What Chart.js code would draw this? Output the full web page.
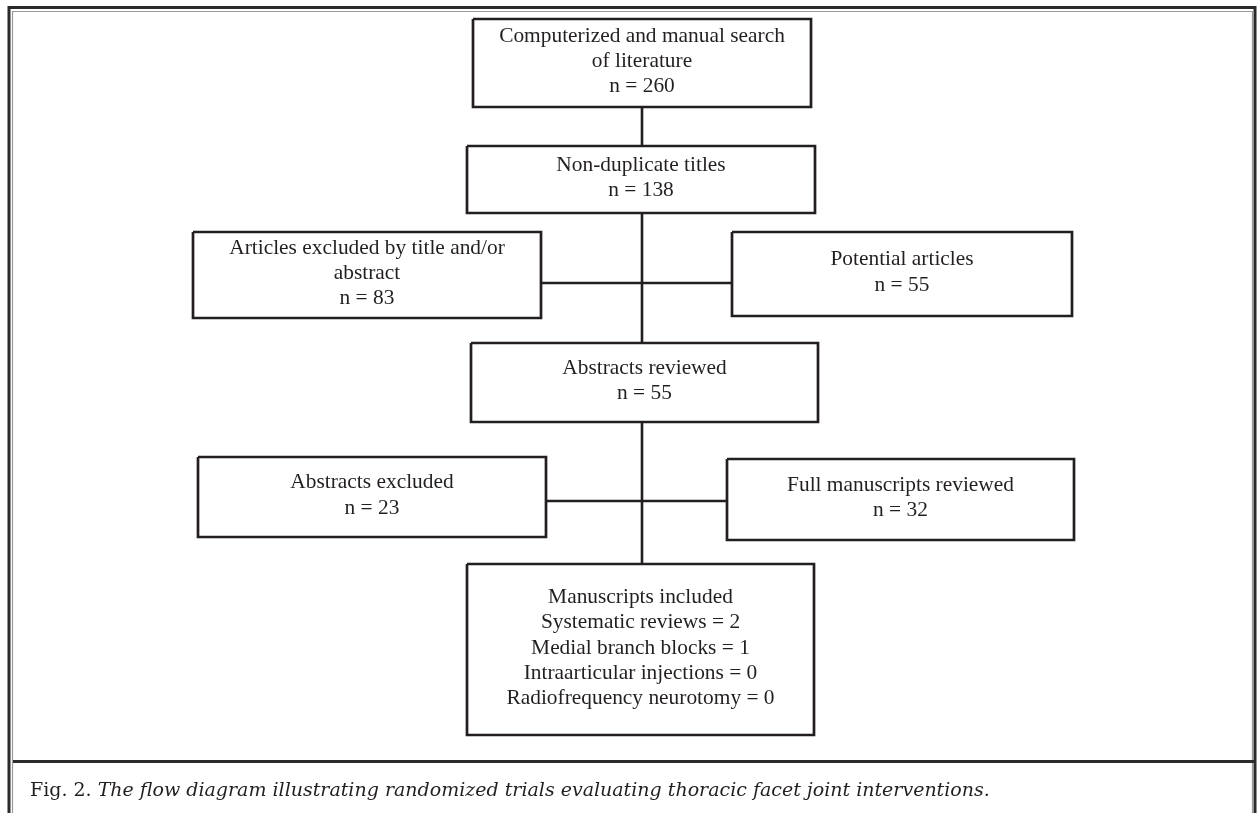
<!DOCTYPE html>
<html>
<head>
<meta charset="utf-8">
<script src="https://cdn.jsdelivr.net/npm/chart.js@4/dist/chart.umd.min.js"></script>
<style>
  html, body { margin: 0; padding: 0; background: #ffffff; }
  #wrap { width: 1257px; height: 813px; }
  canvas { display: block; }
</style>
</head>
<body>
<div id="wrap"><canvas id="fluxo" width="1257" height="813"></canvas></div>
<script>
// dados do diagrama
const etapas = [
    "Computerized and manual search\nof literature",
    "Non-duplicate titles",
    "Articles excluded by title and/or\nabstract",
    "Potential articles",
    "Abstracts reviewed",
    "Abstracts excluded",
    "Full manuscripts reviewed",
    "Manuscripts included"
];
const contagens = [260, 138, 83, 55, 55, 23, 32, null];
const incluidosTipos = ["Systematic reviews", "Medial branch blocks", "Intraarticular injections", "Radiofrequency neurotomy"];
const incluidosValores = [2, 1, 0, 0];
const legendaFig = "Fig. 2.";
const legendaTexto = "The flow diagram illustrating randomized trials evaluating thoracic facet joint interventions.";

// layout das caixas (unidades da escala): [x1, y1, x2, y2]
const caixas = [
    [473, 19, 811, 107],
    [467, 146, 815, 213],
    [193, 232, 541, 318],
    [732, 232, 1072, 316],
    [471, 343, 818, 422],
    [198, 457, 546, 537],
    [727, 459, 1074, 540],
    [467, 564, 814, 735]
];
const eixoX = 642;
const ligacoes = [
    [[eixoX, 107], [eixoX, 146]],
    [[eixoX, 213], [eixoX, 343]],
    [[eixoX, 422], [eixoX, 564]],
    [[541, 283], [732, 283]],
    [[546, 501], [727, 501]]
];

const corLinha = "#231f20";
const corTexto = "#231f20";

function linhasDaCaixa(i) {
    if (contagens[i] === null) {
        return [etapas[i]].concat(incluidosTipos.map((t, k) => `${t} = ${incluidosValores[k]}`));
    }
    return etapas[i].split("\n").concat([`n = ${contagens[i]}`]);
}

function montarDatasets() {
    const ds = [];
    caixas.forEach(c => {
        ds.push({
            data: [
                { x: c[0], y: c[1] }, { x: c[2], y: c[1] },
                { x: c[2], y: c[3] }, { x: c[0], y: c[3] },
                { x: c[0], y: c[1] }
            ],
            borderColor: corLinha,
            borderWidth: 2.7,
            borderJoinStyle: "miter",
            showLine: true,
            pointRadius: 0,
            fill: false,
            tension: 0
        });
    });
    ligacoes.forEach(l => {
        ds.push({
            data: l.map(p => ({ x: p[0], y: p[1] })),
            borderColor: corLinha,
            borderWidth: 2.6,
            showLine: true,
            pointRadius: 0,
            fill: false,
            tension: 0
        });
    });
    return ds;
}

const moldura = {
    id: "moldura",
    beforeDatasetsDraw(chart) {
        const ctx = chart.ctx;
        const x = chart.scales.x, y = chart.scales.y;
        ctx.save();
        ctx.lineCap = "butt";
        // borda externa escura
        ctx.strokeStyle = "#2b2b2b";
        ctx.lineWidth = 3;
        ctx.beginPath();
        ctx.moveTo(x.getPixelForValue(9), y.getPixelForValue(813));
        ctx.lineTo(x.getPixelForValue(9), y.getPixelForValue(7.5));
        ctx.lineTo(x.getPixelForValue(1255), y.getPixelForValue(7.5));
        ctx.lineTo(x.getPixelForValue(1255), y.getPixelForValue(813));
        ctx.stroke();
        // borda interna cinza
        ctx.strokeStyle = "#9a9a9a";
        ctx.lineWidth = 1.2;
        ctx.beginPath();
        ctx.moveTo(x.getPixelForValue(12.5), y.getPixelForValue(813));
        ctx.lineTo(x.getPixelForValue(12.5), y.getPixelForValue(11.5));
        ctx.lineTo(x.getPixelForValue(1252.5), y.getPixelForValue(11.5));
        ctx.lineTo(x.getPixelForValue(1252.5), y.getPixelForValue(813));
        ctx.stroke();
        // separador da legenda
        ctx.strokeStyle = "#2b2b2b";
        ctx.lineWidth = 3;
        ctx.beginPath();
        ctx.moveTo(x.getPixelForValue(13), y.getPixelForValue(761.5));
        ctx.lineTo(x.getPixelForValue(1254), y.getPixelForValue(761.5));
        ctx.stroke();
        ctx.restore();
    }
};

const textos = {
    id: "textos",
    afterDatasetsDraw(chart) {
        const ctx = chart.ctx;
        const x = chart.scales.x, y = chart.scales.y;
        ctx.save();
        ctx.fillStyle = corTexto;
        ctx.font = '21.4px "Liberation Serif"';
        ctx.textAlign = "center";
        ctx.textBaseline = "middle";
        const alturaLinha = 25.3;
        caixas.forEach((c, i) => {
            const linhas = linhasDaCaixa(i);
            const cx = x.getPixelForValue((c[0] + c[2]) / 2);
            const cy = y.getPixelForValue((c[1] + c[3]) / 2) - 1.5;
            const topo = cy - (linhas.length - 1) * alturaLinha / 2;
            linhas.forEach((t, k) => ctx.fillText(t, cx, topo + k * alturaLinha));
        });

        // legenda da figura
        ctx.textAlign = "left";
        ctx.textBaseline = "alphabetic";
        const base = y.getPixelForValue(796);
        let px = x.getPixelForValue(30);
        ctx.font = '19px "DejaVu Serif"';
        ctx.fillText(legendaFig + " ", px, base);
        px += ctx.measureText(legendaFig + " ").width;
        ctx.font = 'italic 19px "DejaVu Serif"';
        ctx.fillText(legendaTexto, px, base);
        ctx.restore();
    }
};

const ctx = document.getElementById("fluxo").getContext("2d");
window.graficoFluxo = new Chart(ctx, {
    type: "scatter",
    data: { datasets: montarDatasets() },
    options: {
        responsive: false,
        animation: false,
        layout: { padding: 0 },
        scales: {
            x: { type: "linear", min: 0, max: 1257, display: false },
            y: { type: "linear", min: 0, max: 813, reverse: true, display: false }
        },
        plugins: {
            legend: { display: false },
            tooltip: { enabled: false }
        }
    },
    plugins: [moldura, textos]
});
</script>
</body>
</html>
